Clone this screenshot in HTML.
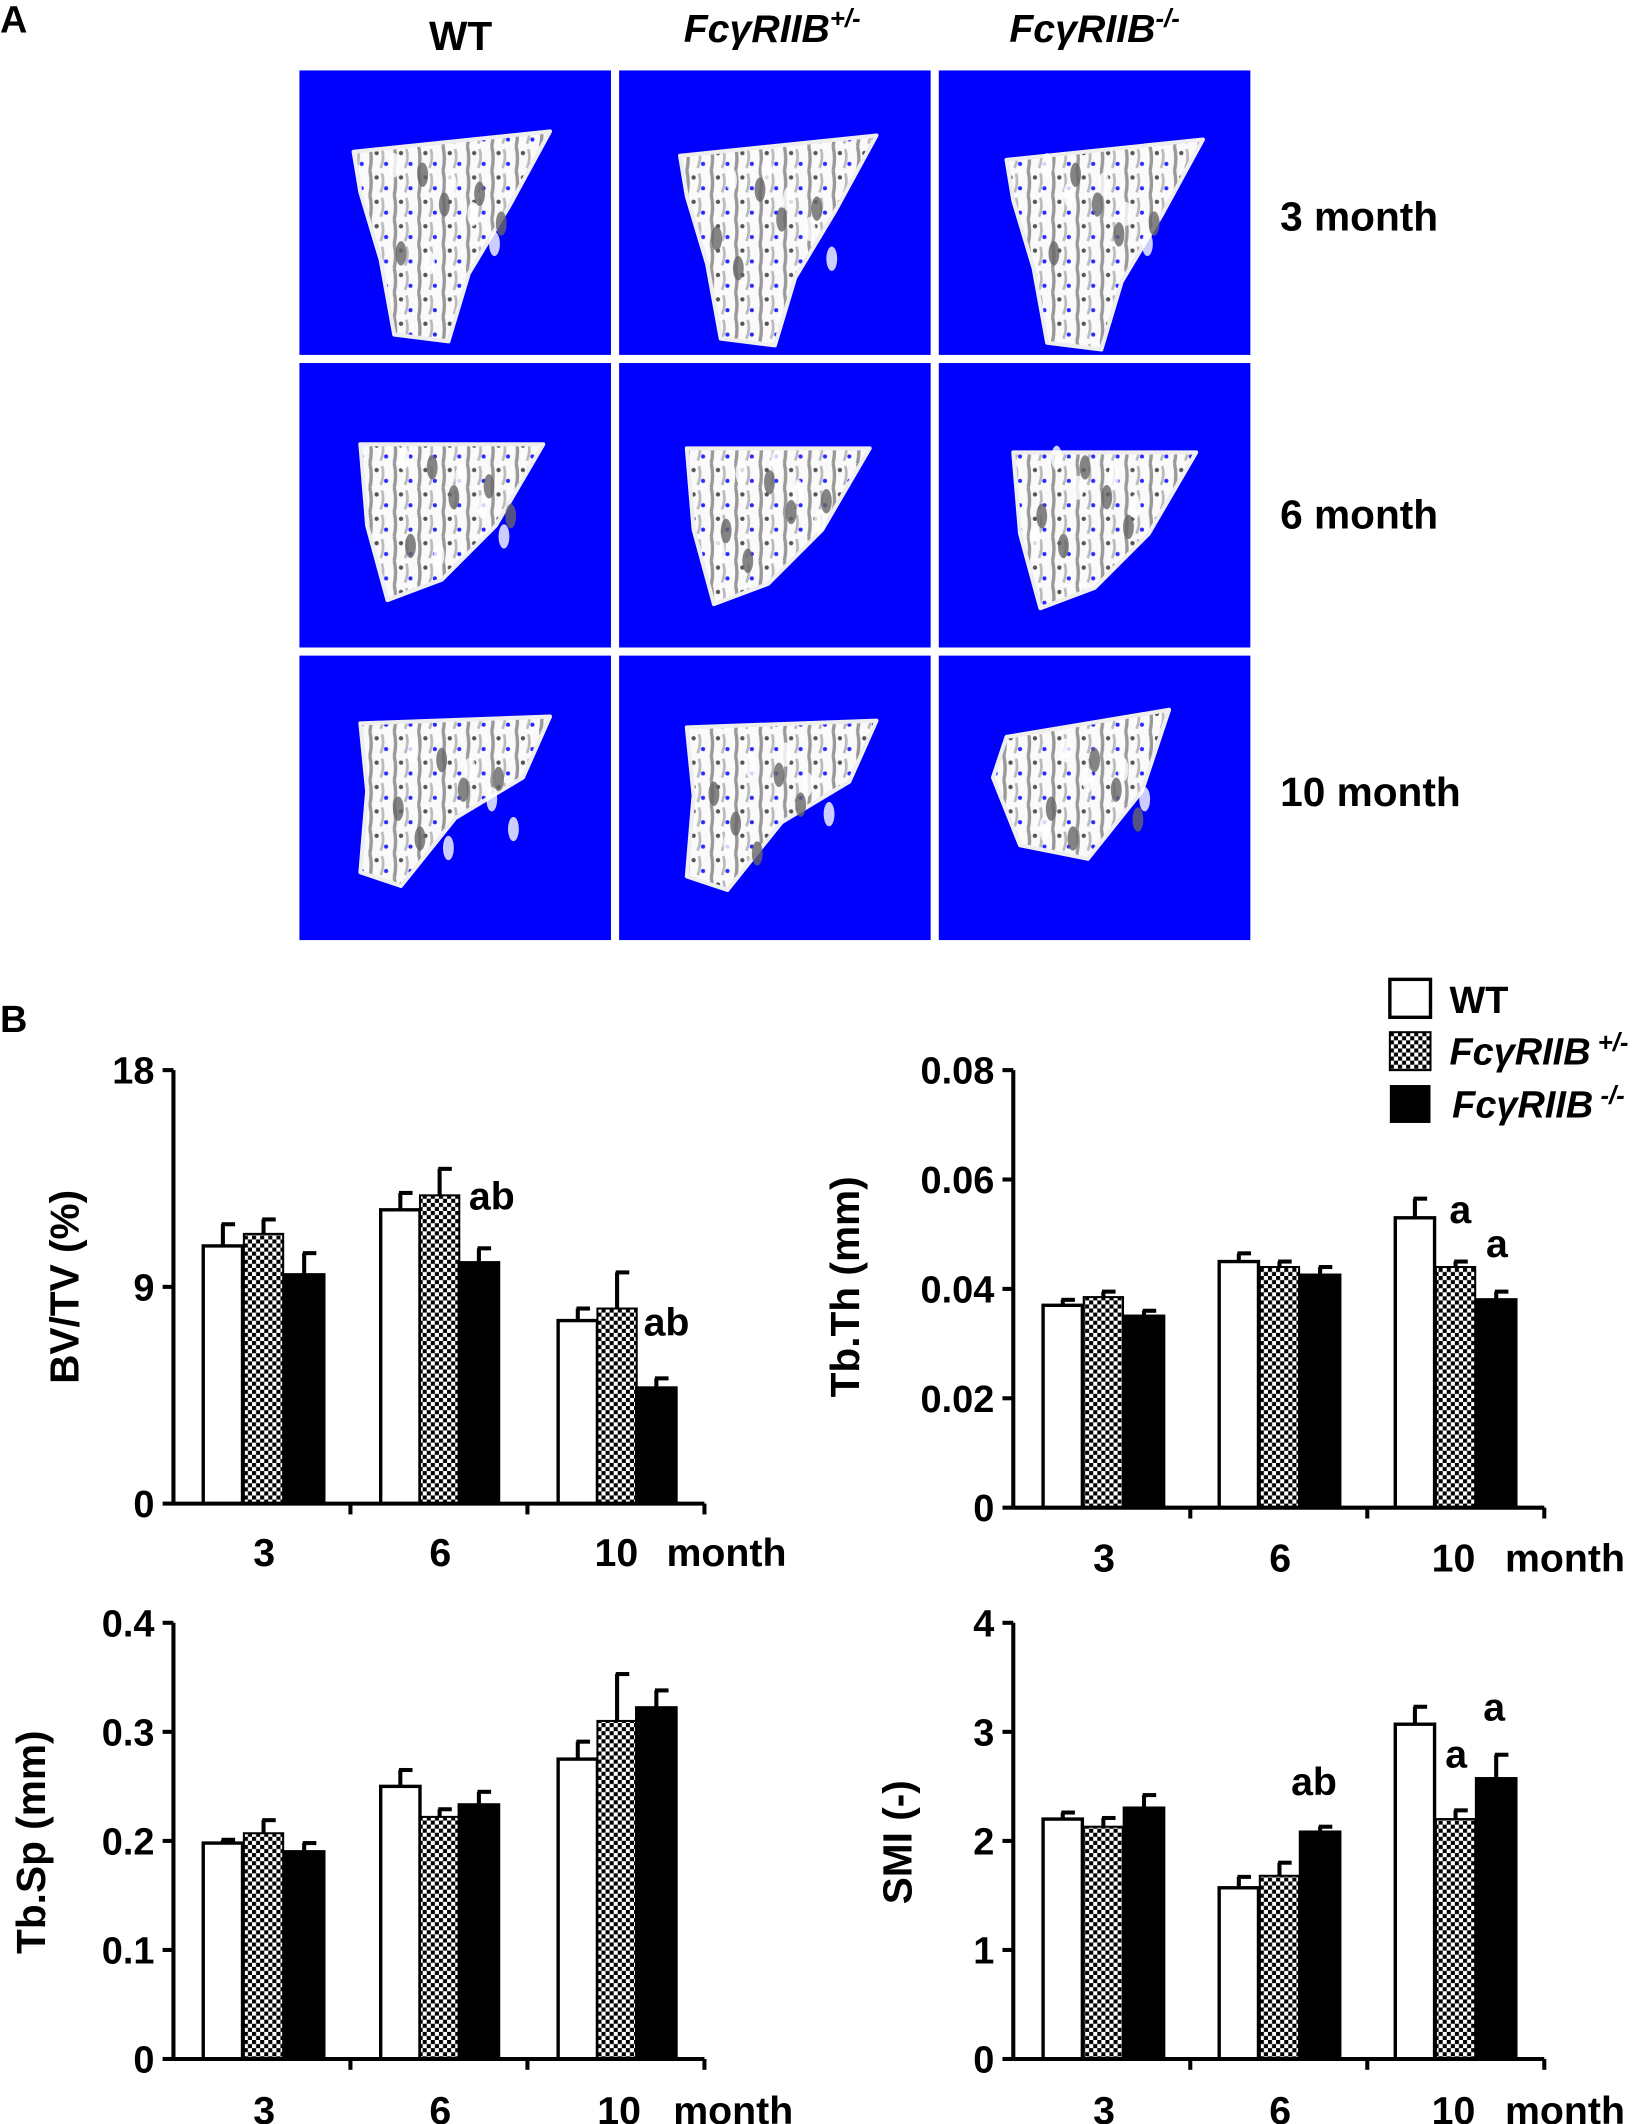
<!DOCTYPE html>
<html><head><meta charset="utf-8"><style>
html,body{margin:0;padding:0;background:#fff}
svg{display:block}
text{font-family:"Liberation Sans",Arial,sans-serif;font-weight:bold;fill:#000}
</style></head><body>
<svg id="s" width="1650" height="2124" viewBox="0 0 1218 1568" xmlns="http://www.w3.org/2000/svg">
<defs>
<pattern id="chk" width="6" height="6" patternUnits="userSpaceOnUse">
<rect width="6" height="6" fill="#fff"/><rect width="3" height="3" fill="#000"/><rect x="3" y="3" width="3" height="3" fill="#000"/>
</pattern>
<pattern id="bone" width="18" height="18" patternUnits="userSpaceOnUse">
<rect width="18" height="18" fill="#fafafa"/>
<path d="M3 0 Q5 9 3 18" stroke="#999" stroke-width="2.5" fill="none"/>
<path d="M12 2 Q14 9 11 16" stroke="#bbb" stroke-width="2" fill="none"/>
<circle cx="8" cy="5" r="1.6" fill="#555"/><circle cx="15" cy="13" r="1.5" fill="#2a2aff"/>
</pattern>
</defs>
<text x="0" y="24" font-size="28">A</text>
<text x="340" y="37" font-size="30" text-anchor="middle">WT</text>
<text x="570" y="31" font-size="29" text-anchor="middle" font-style="italic">FcγRIIB<tspan font-size="19" dy="-11">+/-</tspan></text>
<text x="808" y="31" font-size="29" text-anchor="middle" font-style="italic">FcγRIIB<tspan font-size="19" dy="-11">-/-</tspan></text>
<text x="945" y="170" font-size="30">3 month</text>
<text x="945" y="390" font-size="30">6 month</text>
<text x="945" y="595" font-size="30">10 month</text>
<text x="0" y="762" font-size="28">B</text>
<g id="panels"></g>
<g id="charts"></g>
<rect x="1026" y="723" width="30" height="28" fill="#fff" stroke="#000" stroke-width="2.5"/>
<rect x="1026" y="762" width="30" height="28" fill="url(#chk)" stroke="#000" stroke-width="1.5"/>
<rect x="1026" y="801" width="30" height="28" fill="#000"/>
<text x="1070" y="748" font-size="28">WT</text>
<text x="1070" y="786" font-size="28" font-style="italic">FcγRIIB<tspan font-size="19" dy="-10"> +/-</tspan></text>
<text x="1072" y="825" font-size="28" font-style="italic">FcγRIIB<tspan font-size="19" dy="-10"> -/-</tspan></text>
</svg>
<script>
const NS="http://www.w3.org/2000/svg";
function el(p,t,a,txt){const e=document.createElementNS(NS,t);for(const k in a)e.setAttribute(k,a[k]);if(txt!==undefined)e.textContent=txt;p.appendChild(e);return e;}
const P=document.getElementById('panels');
const cols=[221,457,693],rows=[52,268,484];
const shapes=[
 [[45,60],[190,45],[160,100],[130,150],[115,200],[75,195],[65,140],[50,90]],
 [[50,60],[185,60],[150,120],[110,160],[70,175],[55,120]],
 [[50,50],[190,45],[170,90],[120,120],[80,170],[50,160],[55,100]]
];
rows.forEach((ry,r)=>cols.forEach((cx,c)=>{
 el(P,'rect',{x:cx,y:ry,width:230,height:210,fill:'#0000ff'});
 let s=shapes[r].map(p=>[p[0]+(c-1)*5,p[1]+(c*3)]);
 if(r==2&&c==2)s=[[50,60],[170,40],[150,100],[110,150],[60,140],[40,90]];
 el(P,'polygon',{points:s.map(p=>(cx+p[0])+','+(ry+p[1])).join(' '),fill:'url(#bone)',stroke:'#eee','stroke-width':3,'stroke-linejoin':'round'});
 for(let i=0;i<10;i++){const px=cx+70+((i*37+c*13+r*7)%90),py=ry+70+((i*29+c*11)%80);
  el(P,'ellipse',{cx:px,cy:py,rx:4,ry:9,fill:i%2?'#666':'#fff',opacity:0.8});}
}));
const C=document.getElementById('charts');
function chart(o){
 const {ax,y0,y1,max,ticks,fmt,x1,groups,labels,title,ty,tx,lx,ly}=o;
 const sc=v=>y0-(v/max)*(y0-y1);
 groups.forEach((g,gi)=>{
  g.forEach((b,bi)=>{
   const x=b[0],w=29,top=sc(b[1]),et=sc(b[1]+b[2]);
   const fill=bi==0?'#fff':bi==1?'url(#chk)':'#000';
   el(C,'line',{x1:x+w/2,y1:top,x2:x+w/2,y2:et,stroke:'#000','stroke-width':3});
   el(C,'line',{x1:x+w/2-1,y1:et,x2:x+w/2+9,y2:et,stroke:'#000','stroke-width':3});
   el(C,'rect',{x:x,y:top,width:w,height:y0-top,fill:fill,stroke:'#000','stroke-width':bi==1?1.5:2.5});
  });
 });
 el(C,'line',{x1:ax,y1:y1,x2:ax,y2:y0,stroke:'#000','stroke-width':3});
 el(C,'line',{x1:ax,y1:y0,x2:x1,y2:y0,stroke:'#000','stroke-width':3});
 ticks.forEach(v=>{const y=sc(v);el(C,'line',{x1:ax-8,y1:y,x2:ax,y2:y,stroke:'#000','stroke-width':3});
  el(C,'text',{x:ax-14,y:y+10,'font-size':28,'text-anchor':'end'},fmt(v));});
 for(let i=1;i<=3;i++){const x=ax+i*(x1-ax)/3;el(C,'line',{x1:x,y1:y0,x2:x,y2:y0+8,stroke:'#000','stroke-width':3});}
 ['3','6','10'].forEach((t,i)=>el(C,'text',{x:lx[i],y:ly,'font-size':29,'text-anchor':'middle'},t));
 el(C,'text',{x:lx[3],y:ly,'font-size':29},'month');
 el(C,'text',{x:0,y:0,'font-size':30,'text-anchor':'middle',transform:`translate(${tx},${ty}) rotate(-90)`},title);
 labels.forEach(l=>el(C,'text',{x:l[0],y:l[1],'font-size':29,'text-anchor':'middle'},l[2]));
}
chart({ax:128,y0:1110,y1:790,max:18,ticks:[0,9,18],fmt:v=>v,x1:520,title:'BV/TV (%)',tx:58,ty:950,
 lx:[195,325,455,492],ly:1156,
 groups:[[[150,10.7,0.9],[180,11.2,0.6],[210,9.5,0.9]],[[281,12.2,0.7],[310,12.8,1.1],[339,10.0,0.6]],[[412,7.6,0.5],[441,8.1,1.5],[470,4.8,0.4]]],
 labels:[[363,893,'ab'],[492,986,'ab']]});
chart({ax:748,y0:1113,y1:790,max:0.08,ticks:[0,0.02,0.04,0.06,0.08],fmt:v=>v==0?'0':v.toFixed(2),x1:1140,title:'Tb.Th (mm)',tx:634,ty:950,
 lx:[815,945,1073,1111],ly:1160,
 groups:[[[770,0.037,0.001],[800,0.0385,0.001],[830,0.035,0.001]],[[900,0.045,0.0015],[930,0.044,0.001],[960,0.0425,0.0015]],[[1030,0.053,0.0035],[1060,0.044,0.001],[1090,0.038,0.0015]]],
 labels:[[1078,903,'a'],[1105,928,'a']]});
chart({ax:128,y0:1520,y1:1198,max:0.4,ticks:[0,0.1,0.2,0.3,0.4],fmt:v=>v==0?'0':v.toFixed(1),x1:520,title:'Tb.Sp (mm)',tx:33,ty:1360,
 lx:[195,325,457,497],ly:1568,
 groups:[[[150,0.198,0.003],[180,0.207,0.012],[210,0.19,0.008]],[[281,0.25,0.015],[310,0.222,0.007],[339,0.233,0.012]],[[412,0.275,0.016],[441,0.31,0.043],[470,0.322,0.016]]],
 labels:[]});
chart({ax:748,y0:1520,y1:1198,max:4,ticks:[0,1,2,3,4],fmt:v=>v,x1:1140,title:'SMI (-)',tx:673,ty:1360,
 lx:[815,945,1073,1111],ly:1568,
 groups:[[[770,2.2,0.06],[800,2.13,0.08],[830,2.3,0.12]],[[900,1.57,0.1],[930,1.68,0.12],[960,2.08,0.05]],[[1030,3.07,0.16],[1060,2.2,0.08],[1090,2.57,0.22]]],
 labels:[[970,1325,'ab'],[1075,1305,'a'],[1103,1270,'a']]});
</script>
</body></html>
